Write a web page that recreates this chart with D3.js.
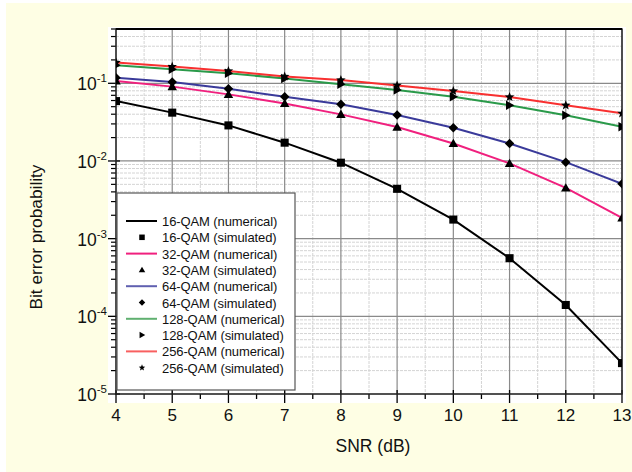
<!DOCTYPE html>
<html><head><meta charset="utf-8">
<script src="https://cdn.jsdelivr.net/npm/d3@7"></script>
<style>
html,body{margin:0;padding:0;background:#fff;}
svg{display:block;font-family:"Liberation Sans",Arial,sans-serif;}
</style></head>
<body><svg id="c" width="632" height="472"></svg>
<script>
const snr = [4,5,6,7,8,9,10,11,12,13];
const ber16  = [0.059,0.0419,0.0287,0.0172,0.0095,0.00438,0.00176,0.00056,0.00014,0.000025];
const ber32  = [0.107,0.0906,0.072,0.055,0.0398,0.0273,0.0168,0.0093,0.0045,0.00185];
const ber64  = [0.118,0.104,0.085,0.067,0.0536,0.039,0.0268,0.0168,0.00966,0.00508];
const ber128 = [0.171,0.152,0.135,0.115,0.097,0.082,0.067,0.052,0.0387,0.0276];
const ber256 = [0.185,0.164,0.144,0.122,0.110,0.094,0.0796,0.0665,0.052,0.041];
const seriesNames = ["16-QAM","32-QAM","64-QAM","128-QAM","256-QAM"];
const seriesColors = ["#000000","#f0207e","#3a3a9a","#2a9a4a","#f83030"];
const legendColors = ["#000000","#f0207e","#6060b0","#60b070","#f86060"];
const markerTypes = ["square","triangle","diamond","rtriangle","star"];
const xTicks = [4,5,6,7,8,9,10,11,12,13];
const yTickExps = [-1,-2,-3,-4,-5];

const svg = d3.select("#c");
const W=632,H=472;
svg.append("rect").attr("x",6).attr("y",3).attr("width",W-6).attr("height",H-3).attr("fill","#fefee4");

const L=116,R=622,T=29,B=394;
svg.append("rect").attr("x",108).attr("y",27).attr("width",518).attr("height",376).attr("fill","#fff");

const x=d3.scaleLinear().domain([4,13]).range([L,R]);
const y=d3.scaleLog().domain([1e-5,0.5]).range([B,T]);

const g=svg.append("g");
const minorY=[];
for(let e=-5;e<=-1;e++){for(let m=2;m<=9;m++){const v=m*Math.pow(10,e); if(v<=0.5) minorY.push(v);}}
g.selectAll(".gmy").data(minorY).enter().append("line")
 .attr("x1",L).attr("x2",R).attr("y1",d=>y(d)).attr("y2",d=>y(d))
 .attr("stroke","#d4d4d4").attr("stroke-width",1).attr("stroke-dasharray","3,1");
const minorX=d3.range(4.5,13,1);
g.selectAll(".gmx").data(minorX).enter().append("line")
 .attr("x1",d=>x(d)).attr("x2",d=>x(d)).attr("y1",T).attr("y2",B)
 .attr("stroke","#d4d4d4").attr("stroke-width",1).attr("stroke-dasharray","3,1");
g.selectAll(".gy").data(yTickExps.map(e=>Math.pow(10,e))).enter().append("line")
 .attr("x1",L).attr("x2",R).attr("y1",d=>y(d)).attr("y2",d=>y(d))
 .attr("stroke","#8a8a8a").attr("stroke-width",1.2);
g.selectAll(".gx").data(xTicks).enter().append("line")
 .attr("x1",d=>x(d)).attr("x2",d=>x(d)).attr("y1",T).attr("y2",B)
 .attr("stroke","#8a8a8a").attr("stroke-width",1.2);

svg.selectAll(".xt").data(xTicks).enter().append("line")
 .attr("x1",d=>x(d)).attr("x2",d=>x(d)).attr("y1",B-4).attr("y2",B+9).attr("stroke","#000").attr("stroke-width",1.3);
svg.selectAll(".xtm").data(minorX).enter().append("line")
 .attr("x1",d=>x(d)).attr("x2",d=>x(d)).attr("y1",B).attr("y2",B+5).attr("stroke","#000").attr("stroke-width",1.3);
svg.selectAll(".xl").data(xTicks).enter().append("text")
 .attr("x",d=>x(d)).attr("y",B+27).attr("text-anchor","middle").attr("font-size",17).attr("fill","#111").text(d=>d);

svg.selectAll(".yt").data(yTickExps.map(e=>Math.pow(10,e))).enter().append("line")
 .attr("x1",L-8).attr("x2",L+4).attr("y1",d=>y(d)).attr("y2",d=>y(d)).attr("stroke","#000").attr("stroke-width",1.3);
svg.selectAll(".ytm").data(minorY).enter().append("line")
 .attr("x1",L-5).attr("x2",L).attr("y1",d=>y(d)).attr("y2",d=>y(d)).attr("stroke","#000").attr("stroke-width",1.2);
const yl=svg.selectAll(".yl").data(yTickExps).enter().append("text")
 .attr("x",L-9).attr("y",d=>y(Math.pow(10,d))+7).attr("text-anchor","end").attr("font-size",17.5).attr("fill","#111");
yl.append("tspan").text("10");
yl.append("tspan").attr("font-size",11.5).attr("dy",-8).text(d=>"-"+(-d));

svg.append("rect").attr("x",L).attr("y",T).attr("width",R-L).attr("height",B-T)
 .attr("fill","none").attr("stroke","#222").attr("stroke-width",1.4);
svg.append("line").attr("x1",L).attr("x2",R).attr("y1",T).attr("y2",T).attr("stroke","#000").attr("stroke-width",2);

svg.append("clipPath").attr("id","clip").append("rect").attr("x",L).attr("y",T).attr("width",R-L).attr("height",B-T);
const dg=svg.append("g").attr("clip-path","url(#clip)");
const allSeries=[ber16,ber32,ber64,ber128,ber256];
const line=d3.line().x((d,i)=>x(snr[i])).y(d=>y(d));

function markerPath(type,s){
  const h=s/2;
  const p=d3.path();
  switch(type){
    case "square": { const q=h*0.85; p.rect(-q,-q,2*q,2*q); break; }
    case "triangle": p.moveTo(0,-h); p.lineTo(h,h*0.75); p.lineTo(-h,h*0.75); p.closePath(); break;
    case "diamond": p.moveTo(0,-h); p.lineTo(h,0); p.lineTo(0,h); p.lineTo(-h,0); p.closePath(); break;
    case "rtriangle": p.moveTo(h,0); p.lineTo(-h*0.75,h); p.lineTo(-h*0.75,-h); p.closePath(); break;
    case "star": {
      for(let i=0;i<10;i++){const r=i%2?h*0.45:h*1.05; const a=-Math.PI/2+i*Math.PI/5;
        const px=r*Math.cos(a),py=r*Math.sin(a); if(i) p.lineTo(px,py); else p.moveTo(px,py);}
      p.closePath(); break; }
  }
  return p.toString();
}
allSeries.forEach((vals,k)=>{
  dg.append("path").datum(vals).attr("d",line).attr("fill","none")
    .attr("stroke",seriesColors[k]).attr("stroke-width",2);
});
allSeries.forEach((vals,k)=>{
  dg.selectAll(".m"+k).data(vals).enter().append("path")
    .attr("d",markerPath(markerTypes[k],9.5))
    .attr("transform",(d,i)=>`translate(${x(snr[i])},${y(d)})`)
    .attr("fill","#000");
});

const lg=svg.append("g");
lg.append("rect").attr("x",117).attr("y",193).attr("width",178).attr("height",197)
 .attr("fill","#fff").attr("stroke","#555").attr("stroke-width",1.2);
const rows=[];
seriesNames.forEach((n,k)=>{rows.push({t:n+" (numerical)",k,kind:"line"});rows.push({t:n+" (simulated)",k,kind:"marker"});});
rows.forEach((r,i)=>{
  const yy=221+i*16.3;
  if(r.kind==="line"){
    lg.append("line").attr("x1",126).attr("x2",157).attr("y1",yy).attr("y2",yy)
      .attr("stroke",legendColors[r.k]).attr("stroke-width",2);
  } else {
    lg.append("path").attr("d",markerPath(markerTypes[r.k],6.5))
      .attr("transform",`translate(142,${yy})`).attr("fill","#000");
  }
  lg.append("text").attr("x",162).attr("y",yy+5).attr("font-size",13).attr("letter-spacing",-0.1)
    .attr("fill","#111").text(r.t);
});

svg.append("text").attr("x",373).attr("y",452).attr("text-anchor","middle").attr("font-size",17.5).attr("fill","#111").text("SNR (dB)");
svg.append("text").attr("transform","translate(42,237) rotate(-90)").attr("text-anchor","middle").attr("font-size",17.3).attr("fill","#111").text("Bit error probability");
</script></body></html>
